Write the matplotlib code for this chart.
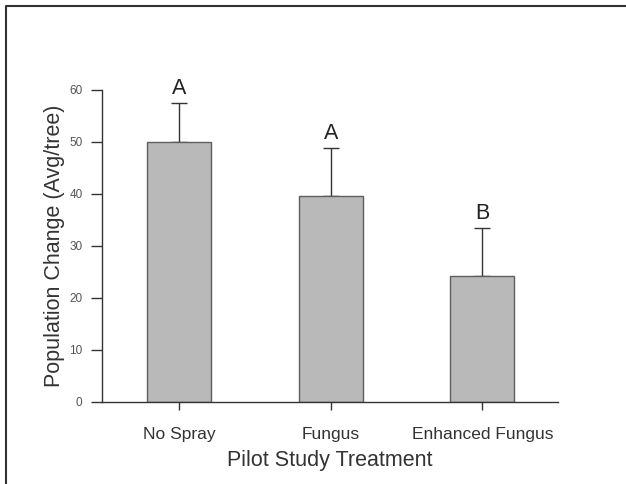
import matplotlib
matplotlib.use("Agg")
import matplotlib.pyplot as plt
from matplotlib.lines import Line2D

plt.rcParams['font.family'] = ['Liberation Sans', 'DejaVu Sans']

categories = ["No Spray", "Fungus", "Enhanced Fungus"]
means = [50.0, 39.6, 24.2]
errors = [7.5, 9.2, 9.3]
letters = ["A", "A", "B"]
yticks = [0, 10, 20, 30, 40, 50, 60]

W, H = 626, 484
fig = plt.figure(figsize=(W / 100, H / 100), dpi=100)
fig.patch.set_facecolor("white")

# frame (left and top edges visible)
fig.add_artist(Line2D([6 / W, 6 / W, 1.0], [0.0, 1 - 6 / H, 1 - 6 / H],
                      transform=fig.transFigure, color="#333333", lw=1.5))

ax = fig.add_axes([102 / W, 1 - 402 / H, (558 - 102) / W, (402 - 90) / H])
x = list(range(len(categories)))
ax.bar(x, means, width=0.42, color="#b9b9b9", edgecolor="#5e5e5e", linewidth=1.0, zorder=2)
ax.errorbar(x, means, yerr=[[0] * len(errors), errors], fmt="none",
            ecolor="#333333", elinewidth=1.0, capsize=6, capthick=1.0, zorder=1)
for xi, m, e, l in zip(x, means, errors, letters):
    ax.text(xi, m + e + 0.8, l, ha="center", va="bottom", fontsize=15.5, color="#222222")

ax.set_xlim(-0.51, 2.5)
ax.set_ylim(0, 60)
ax.set_yticks(yticks)
ax.set_xticks(x)
ax.set_xticklabels(categories, fontsize=12.5, color="#333333")
ax.tick_params(axis="y", labelsize=8.5, labelcolor="#555555", length=8, width=1.0,
               color="#333333", pad=6)
ax.tick_params(axis="x", length=6, width=1.0, color="#333333", pad=12)
for s in ["top", "right"]:
    ax.spines[s].set_visible(False)
for s in ["left", "bottom"]:
    ax.spines[s].set_color("#333333")
    ax.spines[s].set_linewidth(1.0)
ax.set_facecolor("none")
ax.set_xlabel("Pilot Study Treatment", fontsize=15.5, color="#333333", labelpad=6)
ax.set_ylabel("Population Change (Avg/tree)", fontsize=15.5, color="#333333", labelpad=3)

fig.savefig("out.png", dpi=100)
